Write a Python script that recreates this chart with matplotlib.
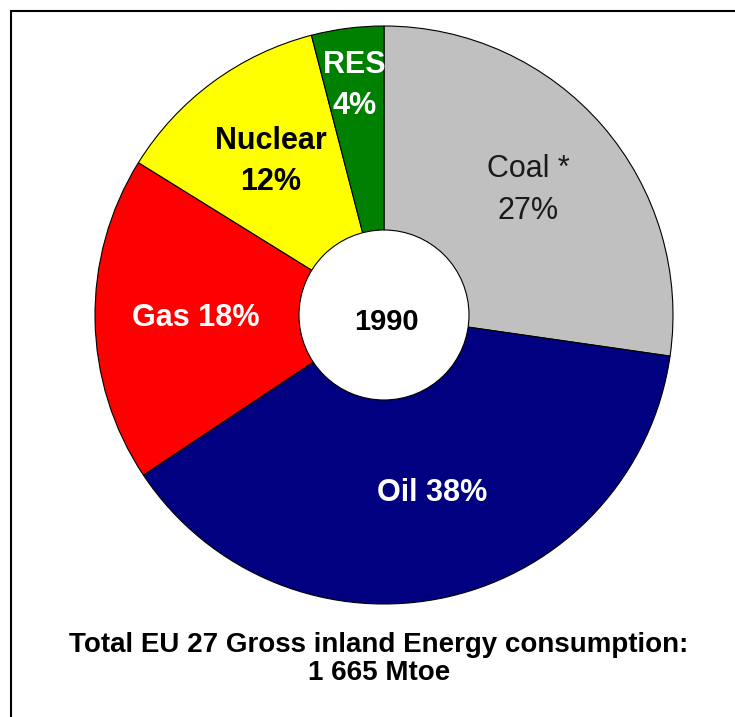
import numpy as np
import matplotlib
matplotlib.use("Agg")
import matplotlib.pyplot as plt
from matplotlib.patches import Circle, Rectangle
from matplotlib import font_manager

# -----------------------------
# Data
# -----------------------------
sources = ["Coal *", "Oil", "Gas", "Nuclear", "RES"]
shares = [27, 38, 18, 12, 4]
colors = ["#C0C0C0", "#000080", "#FF0000", "#FFFF00", "#008000"]
label_texts = ["Coal *\n27%", "Oil 38%", "Gas 18%", "Nuclear\n12%", "RES\n4%"]
label_colors = ["#1a1a1a", "white", "white", "black", "white"]
label_weights = ["normal", "bold", "bold", "bold", "bold"]
label_dist = [0.66, 0.63, 0.65, 0.66, 0.80]
label_nudge = [(0, 0), (8, 0), (0, 0), (0, 0), (0, 0)]
year = "1990"
footer = "Total EU 27 Gross inland Energy consumption:\n1 665 Mtoe"

# pick a narrow Arial-like font if available
names = {f.name for f in font_manager.fontManager.ttflist}
fam = "Liberation Sans Narrow" if "Liberation Sans Narrow" in names else "Liberation Sans"

W, H = 735, 717
fig = plt.figure(figsize=(W / 100, H / 100), dpi=100)
ax = fig.add_axes([0, 0, 1, 1])

cx, cy, R = 384, H - 315, 289

wedges, _ = ax.pie(shares, colors=colors, startangle=90, counterclock=False,
                   center=(cx, cy), radius=R, frame=True,
                   wedgeprops=dict(edgecolor="black", linewidth=0.8))
ax.set_xlim(0, W)
ax.set_ylim(0, H)
ax.axis("off")

# labels placed from the wedge angles
for w, txt, col, wt, d, (nx, ny) in zip(wedges, label_texts, label_colors,
                                        label_weights, label_dist, label_nudge):
    ang = np.deg2rad((w.theta1 + w.theta2) / 2)
    x = cx + d * R * np.cos(ang) + nx
    y = cy + d * R * np.sin(ang) + ny
    ax.text(x, y, txt, ha="center", va="center", color=col, fontsize=22,
            fontweight=wt, family=fam, linespacing=1.5)

# centre hole
ax.add_patch(Circle((cx, cy), 85, facecolor="white", edgecolor="black", linewidth=0.8, zorder=5))
ax.text(cx + 2, cy - 7, year, ha="center", va="center", fontsize=21, fontweight="bold",
        family=fam, zorder=6)

ax.text(379, H - 659, footer, ha="center", va="center", fontsize=20, fontweight="bold",
        family=fam, linespacing=1.05)

# frame (only top/left visible)
ax.add_patch(Rectangle((11, -20), W + 50, H - 11 + 20, facecolor="none",
                       edgecolor="black", linewidth=1.5, clip_on=False))

fig.savefig("out.png", dpi=100)
